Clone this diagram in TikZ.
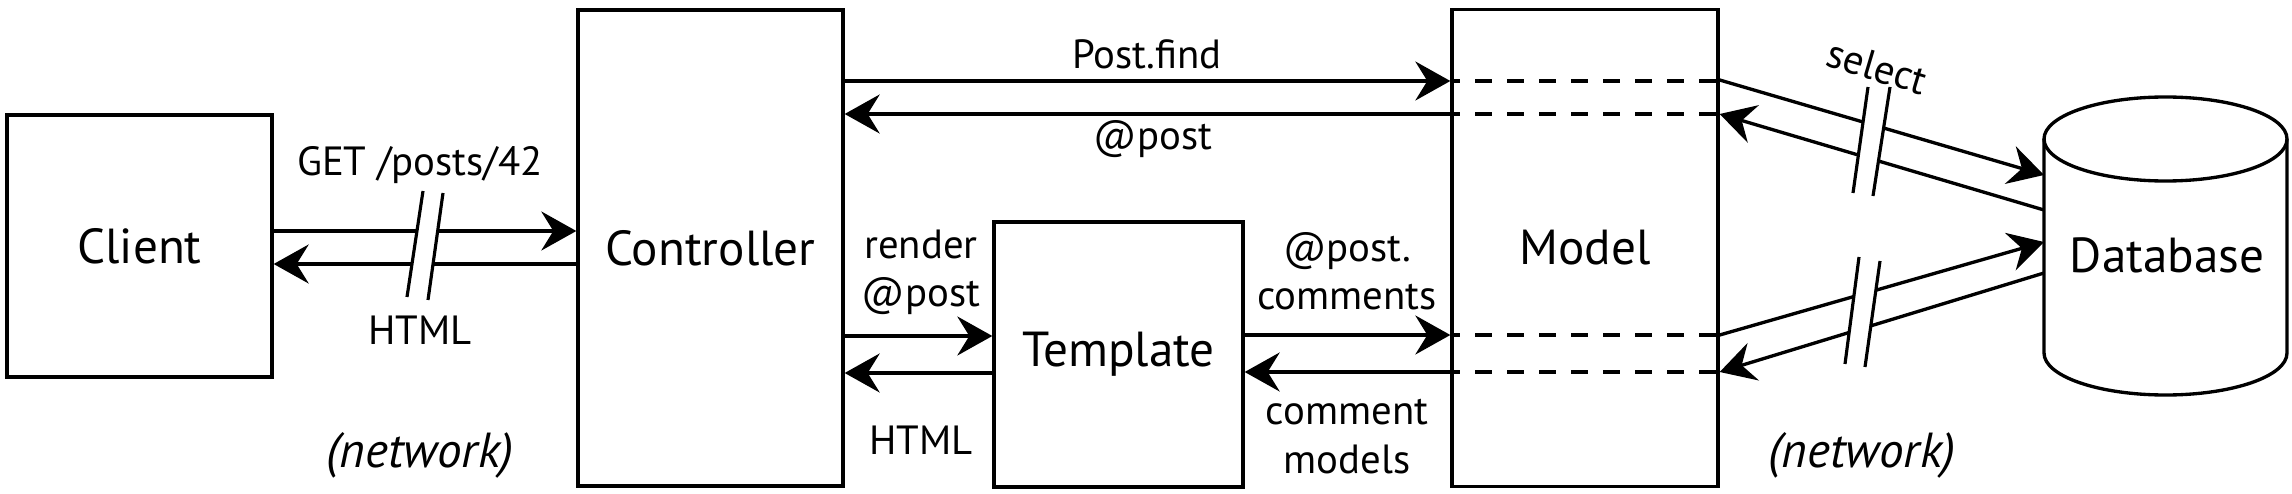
\documentclass[tikz,border=0pt]{standalone}
\usepackage{fontspec}
\setmainfont{PT Sans}
\usetikzlibrary{arrows.meta,positioning}

\begin{document}
\begin{tikzpicture}[
  box/.style={draw, line width=0.95pt, inner sep=0pt, font=\fontsize{14}{16}\selectfont},
  lbl/.style={inner sep=0pt, align=center, font=\fontsize{11.6}{13.7}\selectfont},
  netlbl/.style={inner sep=0pt, font=\fontsize{14}{16}\selectfont\itshape},
  arr/.style={line width=0.95pt, -{Stealth[length=3.5mm,width=3.9mm,inset=1.2mm]}},
  dashline/.style={line width=0.95pt, dash pattern=on 1.7mm off 1.5mm, dash phase=0.7mm},
  brk/.style={line width=0.9pt}]
\useasboundingbox (0,0) rectangle (22.92,-4.94);

% boxes
\node[box, minimum width=2.65cm, minimum height=2.62cm] (client) at (1.395,-2.46) {Client};
\node[box, minimum width=2.65cm, minimum height=4.76cm] (ctrl) at (7.105,-2.48) {Controller};
\node[box, minimum width=2.49cm, minimum height=2.65cm] (tmpl) at (11.185,-3.545) {Template};
\node[box, minimum width=2.66cm, minimum height=4.77cm] (model) at (15.85,-2.48) {Model};
\node[inner sep=0pt, outer sep=0pt, minimum width=2.43cm, minimum height=2.14cm] (db) at (21.655,-2.46) {};
\draw[line width=0.95pt] (db.north west) -- (db.south west)
  arc[start angle=180, end angle=360, x radius=1.215cm, y radius=0.42cm] -- (db.north east);
\draw[line width=0.95pt] (db.north) ellipse [x radius=1.215cm, y radius=0.42cm];
\node[box, draw=none] (dblbl) at (21.67,-2.55) {Database};

% client <-> controller
\draw[arr] (client.east |- 0,-2.31) -- (ctrl.west |- 0,-2.31);
\draw[arr] (ctrl.west |- 0,-2.64) -- (client.east |- 0,-2.64);
% controller <-> model, template
\draw[arr] (ctrl.east |- 0,-0.81) -- (model.west |- 0,-0.81);
\draw[arr] (model.west |- 0,-1.14) -- (ctrl.east |- 0,-1.14);
\draw[arr] (ctrl.east |- 0,-3.36) -- (tmpl.west |- 0,-3.36);
\draw[arr] (tmpl.west |- 0,-3.73) -- (ctrl.east |- 0,-3.73);
\draw[arr] (tmpl.east |- 0,-3.35) -- (model.west |- 0,-3.35);
\draw[arr] (model.west |- 0,-3.72) -- (tmpl.east |- 0,-3.72);
\foreach \y in {0.81,1.14,3.35,3.72}
  \draw[dashline] (model.west |- 0,-\y) -- (model.east |- 0,-\y);
% model <-> database
\draw[arr] (model.east |- 0,-0.80) -- (db.west |- 0,-1.75);
\draw[arr] (db.west |- 0,-2.10) -- (model.east |- 0,-1.14);
\draw[arr] (model.east |- 0,-3.35) -- (db.west |- 0,-2.42);
\draw[arr] (db.west |- 0,-2.73) -- (model.east |- 0,-3.72);

% network breaks
\fill[white] (4.23,-1.91) -- (4.07,-2.97) -- (4.28,-3.00) -- (4.43,-1.93) -- cycle;
\draw[brk] (4.23,-1.91) -- (4.07,-2.97) (4.43,-1.93) -- (4.28,-3.00);
\fill[white] (18.68,-0.87) -- (18.53,-1.93) -- (18.73,-1.96) -- (18.90,-0.87) -- cycle;
\draw[brk] (18.68,-0.87) -- (18.53,-1.93) (18.90,-0.87) -- (18.73,-1.96);
\fill[white] (18.59,-2.57) -- (18.45,-3.64) -- (18.65,-3.67) -- (18.80,-2.61) -- cycle;
\draw[brk] (18.59,-2.57) -- (18.45,-3.64) (18.80,-2.61) -- (18.65,-3.67);

% labels
\node[lbl] (getlbl) at (4.20,-1.65) {GET /posts/42};
\node[lbl] (htmllbl) at (4.20,-3.30) {HTML};
\node[netlbl] (net1) at (4.20,-4.55) {(network)};
\node[lbl] (findlbl) at (11.47,-0.54) {Post.find};
\node[lbl] (postlbl) at (11.53,-1.39) {@post};
\node[lbl] (renderlbl) at (9.21,-2.72) {render\\@post};
\node[lbl] (html2lbl) at (9.21,-4.40) {HTML};
\node[lbl] (commlbl) at (13.47,-2.715) {@post.\\comments};
\node[lbl] (modlbl) at (13.47,-4.365) {comment\\models};
\node[lbl, rotate=-16.5] (sellbl) at (18.77,-0.67) {select};
\node[netlbl] (net2) at (18.62,-4.55) {(network)};
\end{tikzpicture}
\end{document}
